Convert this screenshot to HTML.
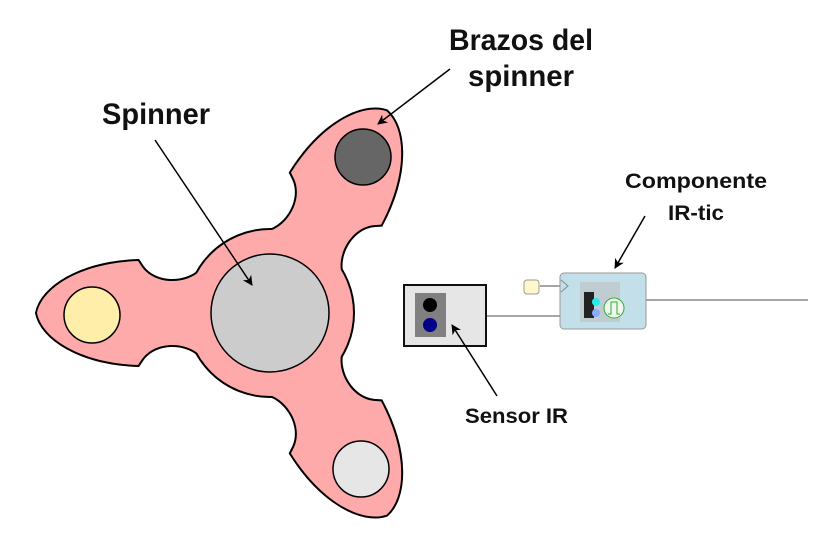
<!DOCTYPE html>
<html><head><meta charset="utf-8"><style>html,body{margin:0;padding:0;background:#fff}svg{display:block}</style></head>
<body>
<svg width="838" height="540" viewBox="0 0 838 540" xmlns="http://www.w3.org/2000/svg">
<defs>
<path id="arm" d="M -70,-42 C -85,-28 -115,-28 -128,-46 L -132,-52 C -190,-50 -228,-25 -233,0 C -228,25 -190,50 -132,52 L -128,46 C -115,28 -85,28 -70,42 Z"/>
<marker id="ah" markerWidth="10" markerHeight="10" refX="9" refY="5" orient="auto" markerUnits="userSpaceOnUse"><path d="M0,0 L10,5 L0,10 L3,5 Z" fill="#000"/></marker>
</defs>
<g transform="translate(270,313)">
 <g stroke="#000" stroke-width="4" fill="#000">
  <use href="#arm"/><use href="#arm" transform="rotate(120)"/><use href="#arm" transform="rotate(240)"/>
  <circle r="83"/>
 </g>
 <g fill="#ffaaaa">
  <use href="#arm"/><use href="#arm" transform="rotate(120)"/><use href="#arm" transform="rotate(240)"/>
  <circle r="83"/>
 </g>
 <circle r="59" fill="#cccccc" stroke="#000" stroke-width="1.5"/>
</g>
<circle cx="92" cy="315" r="28" fill="#ffeeaa" stroke="#000" stroke-width="1.5"/>
<circle cx="363" cy="157" r="28" fill="#666" stroke="#000" stroke-width="1.5"/>
<circle cx="361" cy="469" r="28" fill="#e6e6e6" stroke="#000" stroke-width="1.5"/>

<line x1="486" y1="316" x2="560" y2="316" stroke="#888" stroke-width="1.5"/>
<line x1="540" y1="286" x2="560" y2="286" stroke="#888" stroke-width="1.5"/>
<line x1="646" y1="300" x2="808" y2="300" stroke="#888" stroke-width="1.5"/>
<rect x="404" y="285" width="82" height="61" fill="#e6e6e6" stroke="#111" stroke-width="2"/>
<rect x="415" y="293" width="31" height="44" fill="#808080"/>
<circle cx="430" cy="305" r="7" fill="#000"/>
<circle cx="430" cy="325" r="7" fill="#000088"/>
<rect x="524" y="280" width="15" height="14" rx="3" fill="#fff8cc" stroke="#999"/>
<rect x="560" y="273" width="86" height="56" rx="4" fill="#c2dfea" stroke="#999"/>
<path d="M561,280 L568,286 L561,292" fill="none" stroke="#888"/>
<rect x="580" y="282" width="40" height="40" fill="#bbb" opacity="0.5"/>
<rect x="584" y="292" width="10" height="26" fill="#222"/>
<circle cx="596" cy="302" r="4" fill="#22eeee"/>
<circle cx="596" cy="313" r="4" fill="#88aaff"/>
<circle cx="614" cy="308" r="10" fill="#eef8ee" stroke="#3a3" stroke-width="1"/>
<path d="M608,314 L611,314 L611,302 L617,302 L617,314 L620,314" fill="none" stroke="#3a3"/>

<g font-family="Liberation Sans, sans-serif" font-weight="bold" fill="#111">
<text x="449" y="50" font-size="30" textLength="144" lengthAdjust="spacingAndGlyphs">Brazos del</text>
<text x="468" y="86" font-size="30" textLength="106" lengthAdjust="spacingAndGlyphs">spinner</text>
<text x="102" y="124" font-size="30" textLength="108" lengthAdjust="spacingAndGlyphs">Spinner</text>
<text x="625" y="188" font-size="21" textLength="142" lengthAdjust="spacingAndGlyphs">Componente</text>
<text x="668" y="220" font-size="21" textLength="56" lengthAdjust="spacingAndGlyphs">IR-tic</text>
<text x="465" y="423" font-size="21" textLength="103" lengthAdjust="spacingAndGlyphs">Sensor IR</text>
</g>
<g stroke="#000" stroke-width="1.5" marker-end="url(#ah)">
<line x1="155" y1="140" x2="252" y2="285"/>
<line x1="450" y1="69" x2="378" y2="124"/>
<line x1="645" y1="216" x2="615" y2="268"/>
<line x1="497" y1="396" x2="452" y2="325"/>
</g>
</svg>
</body></html>
